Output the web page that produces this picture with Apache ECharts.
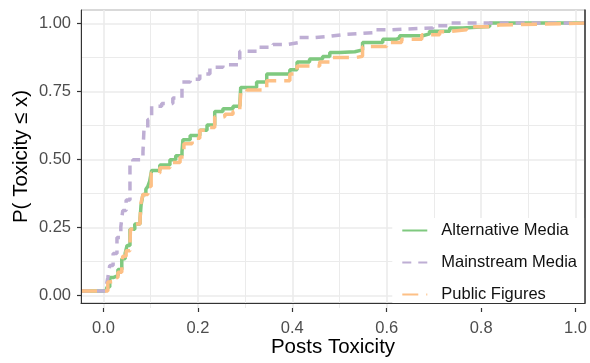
<!DOCTYPE html>
<html>
<head>
<meta charset="utf-8">
<script src="https://cdn.jsdelivr.net/npm/echarts@6/dist/echarts.min.js"></script>
<style>
  html, body { margin: 0; padding: 0; background: #fff; }
  #chart { width: 590px; height: 363px; }
</style>
</head>
<body>
<div id="chart"></div>
<script>
// ECDF steps: x = toxicity, y = P(Toxicity <= x)
const altX = [0.001, 0.007, 0.013, 0.02, 0.03, 0.038, 0.045, 0.049, 0.055, 0.065, 0.076, 0.078, 0.082, 0.088, 0.092, 0.096, 0.1,
  0.117, 0.138, 0.15, 0.163, 0.165, 0.18, 0.2, 0.215, 0.231, 0.248, 0.269, 0.283, 0.285, 0.318, 0.339, 0.387, 0.402,
  0.428, 0.455, 0.47, 0.491, 0.522, 0.538, 0.58, 0.609, 0.615, 0.663, 0.677, 0.719, 0.746, 0.802];
const altY = [0.004, 0.015, 0.05, 0.057, 0.08, 0.12, 0.14, 0.17, 0.23, 0.25, 0.27, 0.32, 0.36, 0.38, 0.39, 0.41, 0.45,
  0.47, 0.49, 0.505, 0.52, 0.565, 0.58, 0.6, 0.62, 0.67, 0.68, 0.69, 0.695, 0.76, 0.78, 0.81, 0.826, 0.855,
  0.866, 0.875, 0.89, 0.893, 0.9, 0.928, 0.94, 0.945, 0.953, 0.96, 0.97, 0.982, 0.987, 1.0];

const mainX = [0.005, 0.009, 0.013, 0.02, 0.028, 0.036, 0.04, 0.047, 0.055, 0.061, 0.082, 0.084, 0.092, 0.1, 0.121, 0.144,
  0.163, 0.18, 0.2, 0.221, 0.248, 0.283, 0.318, 0.352, 0.381, 0.404, 0.439, 0.466, 0.497, 0.559, 0.594, 0.684, 0.719];
const mainY = [0.01, 0.05, 0.095, 0.14, 0.2, 0.24, 0.3, 0.34, 0.47, 0.49, 0.52, 0.6, 0.64, 0.69, 0.7, 0.72,
  0.78, 0.79, 0.81, 0.835, 0.845, 0.895, 0.91, 0.92, 0.927, 0.946, 0.95, 0.957, 0.964, 0.975, 0.982, 0.99, 1.0];

const pubX = [0.009, 0.013, 0.02, 0.03, 0.038, 0.04, 0.047, 0.055, 0.056, 0.065, 0.076, 0.078, 0.082, 0.092, 0.099,
  0.117, 0.138, 0.159, 0.167, 0.184, 0.2, 0.215, 0.231, 0.252, 0.269, 0.283, 0.285, 0.298, 0.339, 0.387, 0.402,
  0.449, 0.47, 0.526, 0.538, 0.588, 0.619, 0.661, 0.698, 0.712, 0.754, 0.802, 0.822];
const pubY = [0.033, 0.035, 0.05, 0.07, 0.1, 0.13, 0.15, 0.17, 0.23, 0.25, 0.27, 0.33, 0.36, 0.39, 0.44,
  0.46, 0.48, 0.5, 0.55, 0.57, 0.6, 0.61, 0.65, 0.66, 0.67, 0.68, 0.74, 0.75, 0.785, 0.81, 0.84,
  0.855, 0.872, 0.876, 0.913, 0.928, 0.94, 0.957, 0.968, 0.975, 0.986, 0.993, 1.0];

const seriesNames = ["Alternative Media", "Mainstream Media", "Public Figures"];
const xTicks = [0, 0.2, 0.4, 0.6, 0.8, 1.0];
const yTicks = [0, 0.25, 0.5, 0.75, 1.0];

const X_MIN = -0.0467, X_MAX = 1.0;
const Y_MIN = -0.045, Y_MAX = 1.049;

const FONT = "'Liberation Sans', Arial, sans-serif";

function ecdf(xs, ys) {
  const pts = [[X_MIN, 0]];
  xs.forEach((x, i) => pts.push([x, ys[i]]));
  pts.push([X_MAX, 1]);
  return pts;
}

const chart = echarts.init(document.getElementById("chart"));

const hidden = {
  axisLine: { show: false }, axisTick: { show: false },
  axisLabel: { show: false }, splitLine: { show: false }
};

const option = {
  animation: false,
  backgroundColor: "#fff",
  grid: [
    // panel: holds the data
    { left: 81, right: 5, top: 10, bottom: 55, show: true, borderColor: "#b3b3b3", borderWidth: 1 },
    // x scale 0..1 for ticks / vertical grid
    { left: 103.5, right: 5, top: 10, bottom: 55 },
    // y scale 0..1 for ticks / horizontal grid
    { left: 81, right: 5, top: 23.3, bottom: 67.3 }
  ],
  xAxis: [
    {
      gridIndex: 0, type: "value", min: X_MIN, max: X_MAX, z: 10,
      axisLine: { show: true, onZero: false, lineStyle: { color: "#333", width: 1 } },
      axisTick: { show: false }, axisLabel: { show: false }, splitLine: { show: false },
      name: "Posts Toxicity", nameLocation: "middle", nameGap: 34,
      nameTextStyle: { fontFamily: FONT, fontSize: 20.5, color: "#000" }
    },
    {
      gridIndex: 1, type: "value", min: 0, max: 1, interval: 0.2,
      axisLine: { show: false, onZero: false },
      axisTick: { show: true, length: 4, lineStyle: { color: "#333", width: 1.2 } },
      axisLabel: {
        margin: 12, fontFamily: FONT, fontSize: 16.5, color: "#4d4d4d",
        formatter: v => xTicks.includes(+v.toFixed(1)) ? v.toFixed(1) : ""
      },
      splitLine: { show: true, lineStyle: { color: "#ebebeb", width: 1.6 } },
      minorTick: { show: false, splitNumber: 2 },
      minorSplitLine: { show: true, lineStyle: { color: "#ebebeb", width: 1 } }
    },
    Object.assign({ gridIndex: 2, type: "value", min: 0, max: 1 }, hidden)
  ],
  yAxis: [
    {
      gridIndex: 0, type: "value", min: Y_MIN, max: Y_MAX, z: 10,
      axisLine: { show: true, onZero: false, lineStyle: { color: "#333", width: 1 } },
      axisTick: { show: false }, axisLabel: { show: false }, splitLine: { show: false },
      name: "P( Toxicity \u2264 x)", nameLocation: "middle", nameGap: 49,
      nameTextStyle: { fontFamily: FONT, fontSize: 20.5, color: "#000" }
    },
    {
      gridIndex: 0, type: "value", min: Y_MIN, max: Y_MAX, position: "right", z: 10,
      axisLine: { show: true, onZero: false, lineStyle: { color: "#333", width: 1.5 } },
      axisTick: { show: false }, axisLabel: { show: false }, splitLine: { show: false }
    },
    Object.assign({ gridIndex: 1, type: "value", min: 0, max: 1 }, hidden),
    {
      gridIndex: 2, type: "value", min: 0, max: 1, interval: 0.25,
      axisLine: { show: false, onZero: false },
      axisTick: { show: true, length: 4, lineStyle: { color: "#333", width: 1.2 } },
      axisLabel: {
        margin: 10, fontFamily: FONT, fontSize: 16.5, color: "#4d4d4d",
        formatter: v => yTicks.includes(+v.toFixed(2)) ? v.toFixed(2) : ""
      },
      splitLine: { show: true, lineStyle: { color: "#ebebeb", width: 1.6 } },
      minorTick: { show: false, splitNumber: 2 },
      minorSplitLine: { show: true, lineStyle: { color: "#ebebeb", width: 1 } }
    }
  ],
  legend: {
    orient: "vertical",
    right: 5,
    bottom: 55,
    backgroundColor: "#fff",
    padding: [4, 8, 5, 9],
    itemWidth: 25,
    itemHeight: 14,
    itemGap: 15,
    itemStyle: { opacity: 0 },
    data: seriesNames,
    textStyle: { fontFamily: FONT, fontSize: 16.5, color: "#111", padding: [0, 0, 0, 9] }
  },
  series: [
    {
      name: seriesNames[0], type: "line", step: "end", xAxisIndex: 0, yAxisIndex: 0,
      symbol: "none", showSymbol: false, data: ecdf(altX, altY),
      color: "#7fc97f", lineStyle: { color: "#7fc97f", width: 3.5, type: "solid" }, z: 3
    },
    {
      name: seriesNames[1], type: "line", step: "end", xAxisIndex: 0, yAxisIndex: 0,
      symbol: "none", showSymbol: false, data: ecdf(mainX, mainY),
      color: "#beaed4", lineStyle: { color: "#beaed4", width: 3.5, type: [9, 7] }, z: 4
    },
    {
      name: seriesNames[2], type: "line", step: "end", xAxisIndex: 0, yAxisIndex: 0,
      symbol: "none", showSymbol: false, data: ecdf(pubX, pubY),
      color: "#fdc086", lineStyle: { color: "#fdc086", width: 3.5, type: [16, 8] }, z: 5
    }
  ]
};

chart.setOption(option);
</script>
</body>
</html>
